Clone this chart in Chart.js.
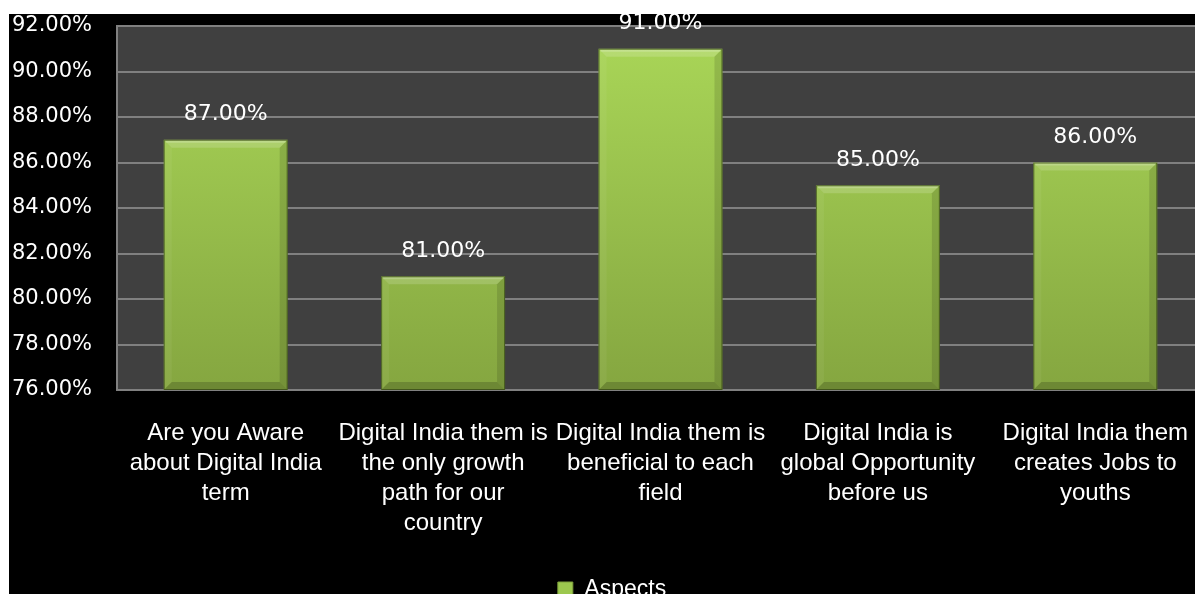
<!DOCTYPE html>
<html>
<head>
<meta charset="utf-8">
<script src="https://cdn.jsdelivr.net/npm/chart.js@4.4.1/dist/chart.umd.min.js"></script>
<style>
    html, body { margin: 0; padding: 0; background: #000; overflow: hidden; }
    #wrap { position: absolute; left: 0; top: 0; width: 1204px; height: 611px; }
    .strip { position: absolute; background: #fff; }
</style>
</head>
<body>
<div id="wrap"><canvas id="chart"></canvas></div>
<div class="strip" style="left:0;top:0;width:1195px;height:14px"></div>
<div class="strip" style="left:0;top:0;width:9px;height:594px"></div>
<script>
const categories = [
    ["Are you Aware", "about Digital India", "term"],
    ["Digital India them is", "the only growth", "path for our", "country"],
    ["Digital India them is", "beneficial to each", "field"],
    ["Digital India is", "global Opportunity", "before us"],
    ["Digital India them", "creates Jobs to", "youths"]
];
const aspects = [87, 81, 91, 85, 86];
const seriesName = "Aspects";
const yMin = 76, yMax = 92, yStep = 2;

// plot area fill
const plotBg = {
    id: 'plotBg',
    beforeDraw(chart) {
        const a = chart.chartArea;
        const c = chart.ctx;
        c.save();
        c.fillStyle = '#404040';
        c.fillRect(a.left, a.top, a.right - a.left, a.bottom - a.top);
        c.restore();
    }
};

// legend sits a little right of the page centre in the original
const legendNudge = {
    id: 'legendNudge',
    afterLayout(chart) {
        if (chart.legend) {
            chart.legend.left += 10;
            chart.legend.right += 10;
        }
    }
};

// bevel look on the bars + value labels
const bevelBars = {
    id: 'bevelBars',
    afterDatasetsDraw(chart) {
        const c = chart.ctx;
        const area = chart.chartArea;
        const meta = chart.getDatasetMeta(0);
        meta.data.forEach((bar, i) => {
            const p = bar.getProps(['x', 'y', 'base', 'width'], true);
            const x0 = p.x - p.width / 2, x1 = p.x + p.width / 2;
            const y0 = p.y, y1 = Math.min(p.base, area.bottom);
            const b = 8;
            c.save();
            // top
            c.fillStyle = 'rgba(255,255,255,0.16)';
            c.beginPath();
            c.moveTo(x0, y0); c.lineTo(x1, y0); c.lineTo(x1 - b, y0 + b); c.lineTo(x0 + b, y0 + b);
            c.closePath(); c.fill();
            c.fillStyle = 'rgba(255,255,255,0.2)';
            c.fillRect(x0 + 2, y0 + 1, p.width - 4, 2);
            // left
            c.fillStyle = 'rgba(255,255,255,0.05)';
            c.beginPath();
            c.moveTo(x0, y0); c.lineTo(x0 + b, y0 + b); c.lineTo(x0 + b, y1 - b); c.lineTo(x0, y1);
            c.closePath(); c.fill();
            // right
            c.fillStyle = 'rgba(0,0,0,0.12)';
            c.beginPath();
            c.moveTo(x1, y0); c.lineTo(x1 - b, y0 + b); c.lineTo(x1 - b, y1 - b); c.lineTo(x1, y1);
            c.closePath(); c.fill();
            // bottom
            c.fillStyle = 'rgba(0,0,0,0.18)';
            c.beginPath();
            c.moveTo(x0, y1); c.lineTo(x0 + b, y1 - b); c.lineTo(x1 - b, y1 - b); c.lineTo(x1, y1);
            c.closePath(); c.fill();
            c.strokeStyle = 'rgba(40,55,15,0.6)';
            c.lineWidth = 1;
            c.strokeRect(x0 + 0.5, y0 + 0.5, p.width - 1, y1 - y0 - 1);

            c.fillStyle = '#ffffff';
            c.font = '22px "DejaVu Sans"';
            c.textAlign = 'center';
            c.textBaseline = 'middle';
            c.fillText(aspects[i].toFixed(2) + '%', p.x, y0 - 25);
            c.restore();
        });
    }
};

const ctx = document.getElementById('chart').getContext('2d');

new Chart(ctx, {
    type: 'bar',
    data: {
        labels: categories,
        datasets: [{
            label: seriesName,
            data: aspects,
            backgroundColor: (context) => {
                const a = context.chart.chartArea;
                if (!a) return '#98be4b';
                const g = context.chart.ctx.createLinearGradient(0, a.top, 0, a.bottom);
                g.addColorStop(0, '#aad758');
                g.addColorStop(1, '#85a640');
                return g;
            },
            borderWidth: 0,
            categoryPercentage: 1,
            barPercentage: 0.57
        }]
    },
    options: {
        responsive: true,
        maintainAspectRatio: false,
        animation: false,
        layout: { padding: { left: 0, top: 26, right: 0, bottom: 0 } },
        plugins: {
            tooltip: { enabled: false },
            legend: {
                position: 'bottom',
                labels: {
                    color: '#ffffff',
                    font: { family: '"Liberation Sans"', size: 23 },
                    boxWidth: 15,
                    boxHeight: 15,
                    padding: 6,
                    generateLabels: () => [{ text: seriesName, fillStyle: '#9cc84e', strokeStyle: '#7d9e3a', lineWidth: 1, fontColor: '#ffffff' }]
                }
            }
        },
        scales: {
            y: {
                min: yMin,
                max: yMax,
                afterFit: (scale) => {
                    scale.width = 117;
                    scale.paddingTop = 0;
                    scale.paddingBottom = 0;
                },
                ticks: {
                    stepSize: yStep,
                    color: '#ffffff',
                    padding: 25,
                    font: { family: '"DejaVu Sans"', size: 21 },
                    callback: (v) => v.toFixed(2) + '%'
                },
                grid: { color: '#808080', lineWidth: 2, drawTicks: false },
                border: { display: true, color: '#808080', width: 2 }
            },
            x: {
                afterFit: (scale) => {
                    scale.height = 182;
                    scale.paddingLeft = 0;
                    scale.paddingRight = 0;
                },
                ticks: {
                    color: '#ffffff',
                    padding: 28,
                    maxRotation: 0,
                    autoSkip: false,
                    font: { family: '"Liberation Sans"', size: 24, lineHeight: 1.26 }
                },
                grid: { display: false, drawTicks: false },
                border: { display: true, color: '#808080', width: 2 }
            }
        }
    },
    plugins: [plotBg, legendNudge, bevelBars]
});
</script>
</body>
</html>
